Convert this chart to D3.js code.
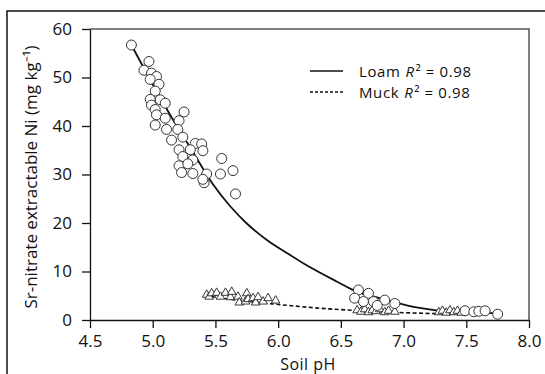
<!DOCTYPE html>
<html>
<head>
<meta charset="utf-8">
<script src="https://cdn.jsdelivr.net/npm/d3@7"></script>
<style>
body { margin: 0; background: #fff; }
text { font-family: "Open Sans", sans-serif; fill: #111; }
</style>
</head>
<body>
<svg id="chart"></svg>
<script>
// ticks
var xTicks = [4.5, 5.0, 5.5, 6.0, 6.5, 7.0, 7.5, 8.0];
var yTicks = [0, 10, 20, 30, 40, 50, 60];

// loam observations (circles)
var loamPH = [4.83, 4.97, 4.93, 4.99, 5.03, 4.98, 5.05, 5.02, 4.98, 5.06, 4.99, 5.10, 5.02, 5.03, 5.10,
  5.25, 5.21, 5.02, 5.11, 5.20, 5.15, 5.24, 5.34, 5.39, 5.21, 5.30, 5.40, 5.24, 5.32, 5.21, 5.28,
  5.55, 5.23, 5.32, 5.43, 5.54, 5.64, 5.41, 5.66, 5.40,
  6.64, 6.72, 6.61, 6.68, 6.76, 6.85, 6.93, 6.79,
  7.49, 7.56, 7.60, 7.65, 7.75];
var loamNi = [56.7, 53.3, 51.5, 50.9, 50.2, 49.6, 48.6, 47.2, 45.5, 45.4, 44.3, 44.7, 43.4, 42.3, 41.6,
  42.9, 41.1, 40.2, 39.3, 39.3, 37.1, 37.7, 36.4, 36.3, 35.1, 35.1, 34.9, 33.7, 33.0, 31.8, 32.2,
  33.3, 30.4, 30.2, 30.1, 30.1, 30.8, 28.3, 26.0, 29.0,
  6.2, 5.5, 4.5, 3.8, 3.8, 4.1, 3.4, 3.0,
  1.9, 1.7, 1.8, 1.9, 1.2];

// muck observations (triangles)
var muckPH = [5.43, 5.45, 5.47, 5.51, 5.54, 5.58, 5.62, 5.63, 5.68, 5.69, 5.74, 5.75, 5.76, 5.80, 5.82, 5.84, 5.88, 5.92, 5.98,
  6.63, 6.66, 6.69, 6.72, 6.75, 6.78, 6.81, 6.85, 6.88, 6.93,
  7.28, 7.31, 7.34, 7.37, 7.40, 7.43, 7.46];
var muckNi = [5.2, 4.8, 5.5, 5.6, 4.8, 5.6, 4.7, 5.8, 4.8, 3.6, 3.8, 5.5, 4.3, 4.5, 3.6, 4.7, 3.8, 4.5, 4.0,
  2.0, 1.7, 2.2, 1.6, 2.0, 1.8, 2.2, 1.6, 1.9, 1.7,
  1.6, 1.9, 1.5, 2.0, 1.6, 1.9, 1.5];

// fitted curves
var loamFitPH = [4.83, 5.00, 5.15, 5.30, 5.48, 5.62, 5.75, 5.91, 6.07, 6.20, 6.47, 6.63, 6.81, 7.08, 7.29, 7.50, 7.76];
var loamFitNi = [56.7, 48.6, 41.8, 35.5, 28.0, 23.4, 19.9, 16.5, 13.8, 11.7, 7.9, 5.8, 4.5, 2.7, 1.9, 1.5, 1.4];
var muckFitPH = [5.42, 5.70, 6.00, 6.40, 6.60, 6.90, 7.30, 7.50];
var muckFitNi = [5.0, 4.0, 3.2, 2.3, 2.0, 1.6, 1.3, 1.2];

var W = 545, H = 374;
var FONT = '17px';
var svg = d3.select('#chart').attr('width', W).attr('height', H);

var x = d3.scaleLinear().domain([4.5, 8.0]).range([90, 529]);
var y = d3.scaleLinear().domain([0, 60]).range([320, 29]);

// outer frame (left + top only)
svg.append('path')
  .attr('d', 'M7,' + H + 'V11H' + W)
  .attr('fill', 'none').attr('stroke', '#111').attr('stroke-width', 1.5);

// plot frame top/right
svg.append('path')
  .attr('d', 'M' + x(4.5) + ',' + y(60) + 'H' + x(8) + 'V' + y(0))
  .attr('fill', 'none').attr('stroke', '#555').attr('stroke-width', 1.5);

var xAxis = d3.axisBottom(x).tickValues(xTicks).tickFormat(d3.format('.1f'))
  .tickSize(8).tickSizeOuter(0).tickPadding(7);
var yAxis = d3.axisLeft(y).tickValues(yTicks).tickSize(8).tickSizeOuter(0).tickPadding(10);

var gx = svg.append('g').attr('transform', 'translate(0,' + y(0) + ')').call(xAxis);
var gy = svg.append('g').attr('transform', 'translate(' + x(4.5) + ',0)').call(yAxis);
[gx, gy].forEach(function(g) {
  g.selectAll('path, line').attr('stroke', '#111').attr('stroke-width', 1.3);
  g.selectAll('text').style('font-family', '"Open Sans", sans-serif').style('font-size', FONT).attr('fill', '#111');
});

// axis titles
svg.append('text')
  .attr('x', 308).attr('y', 369.5)
  .attr('text-anchor', 'middle')
  .style('font-size', '16px')
  .style('letter-spacing', '0.5px')
  .text('Soil pH');

svg.append('text')
  .attr('transform', 'translate(37,177) rotate(-90)')
  .attr('text-anchor', 'middle')
  .style('font-size', FONT)
  .text('Sr-nitrate extractable Ni (mg kg\u207B\u00B9)');

// fit lines
var line = d3.line().x(function(d) { return x(d[0]); }).y(function(d) { return y(d[1]); })
  .curve(d3.curveMonotoneX);

svg.append('path')
  .datum(d3.zip(loamFitPH, loamFitNi))
  .attr('d', line)
  .attr('fill', 'none').attr('stroke', '#111').attr('stroke-width', 1.8);

svg.append('path')
  .datum(d3.zip(muckFitPH, muckFitNi))
  .attr('d', line)
  .attr('fill', 'none').attr('stroke', '#111').attr('stroke-width', 1.6)
  .attr('stroke-dasharray', '4,2.5');

// muck triangles
svg.append('g').selectAll('path')
  .data(d3.zip(muckPH, muckNi))
  .enter().append('path')
  .attr('d', d3.symbol().type(d3.symbolTriangle).size(32))
  .attr('transform', function(d) { return 'translate(' + x(d[0]) + ',' + y(d[1]) + ')'; })
  .attr('fill', '#fff').attr('stroke', '#222').attr('stroke-width', 0.9);

// loam circles
svg.append('g').selectAll('circle')
  .data(d3.zip(loamPH, loamNi))
  .enter().append('circle')
  .attr('cx', function(d) { return x(d[0]); })
  .attr('cy', function(d) { return y(d[1]); })
  .attr('r', 5)
  .attr('fill', '#fff').attr('stroke', '#333').attr('stroke-width', 1);

// legend: separate text pieces, placed by measured width
var LFONT = '15px';
var legend = [
  { name: 'Loam', dash: null, r2: '0.98' },
  { name: 'Muck', dash: '3,2', r2: '0.98' }
];
legend.forEach(function(d, i) {
  var g = svg.append('g').attr('transform', 'translate(310,' + (71 + i * 21) + ')');
  g.append('line')
    .attr('x1', 0).attr('x2', 33)
    .attr('stroke', '#111').attr('stroke-width', 1.4)
    .attr('stroke-dasharray', d.dash);
  var cx = 49;
  var t1 = g.append('text').attr('x', cx).attr('y', 5.5).style('font-size', LFONT)
    .style('letter-spacing', '0.6px').text(d.name);
  cx += t1.node().getComputedTextLength() + 5;
  var t2 = g.append('text').attr('x', cx).attr('y', 5.5).style('font-size', LFONT)
    .style('font-style', 'italic').text('R');
  cx += t2.node().getComputedTextLength() + 1.5;
  g.append('text').attr('x', cx).attr('y', 5.5).style('font-size', LFONT)
    .style('letter-spacing', '0.6px').text('\u00B2 = ' + d.r2);
});
</script>
</body>
</html>
